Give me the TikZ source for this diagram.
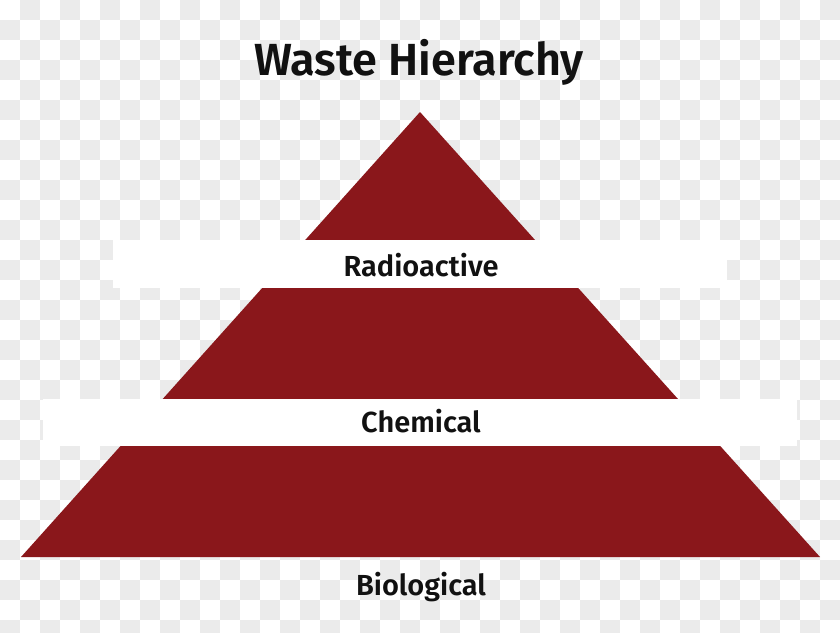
\documentclass[tikz,border=0pt]{standalone}
\usepackage{fontspec}
\setmainfont{Fira Sans}[BoldFont={Fira Sans SemiBold}]
\definecolor{wastered}{RGB}{138,23,27}
\definecolor{checkgray}{RGB}{235,235,235}
\definecolor{inkblack}{RGB}{17,17,17}

\begin{document}
\begin{tikzpicture}[x=1pt, y=-1pt,
    band/.style={fill=white},
    tierlabel/.style={anchor=base, inner sep=0pt, text=inkblack, font=\bfseries\fontsize{29}{30}\selectfont},
    heading/.style={anchor=base, inner sep=0pt, text=inkblack, font=\bfseries\fontsize{45}{48}\selectfont}]
    \useasboundingbox (0,0) rectangle (840,632);
    % checkered background
    \fill[white] (0,0) rectangle (840,632);
    \foreach \i in {0,...,41}
      \foreach \j in {0,...,31} {
        \pgfmathtruncatemacro{\odd}{mod(\i+\j,2)}
        \ifnum\odd=1 \fill[checkgray] (20*\i,20*\j) rectangle ++(20,20); \fi
      }
    % pyramid and bands
    \fill[wastered] (420,112) -- (820,557) -- (21,557) -- cycle;
    \fill[band] (113,240) rectangle (727,288);
    \fill[band] (43,399) rectangle (797,446);
    % texts
    \node[heading] (title) at (419,75) {Waste Hierarchy};
    \node[tierlabel] (radio) at (421,276) {Radioactive};
    \node[tierlabel] (chem) at (421,432) {Chemical};
    \node[tierlabel] (bio) at (421,595) {Biological};
\end{tikzpicture}
\end{document}
